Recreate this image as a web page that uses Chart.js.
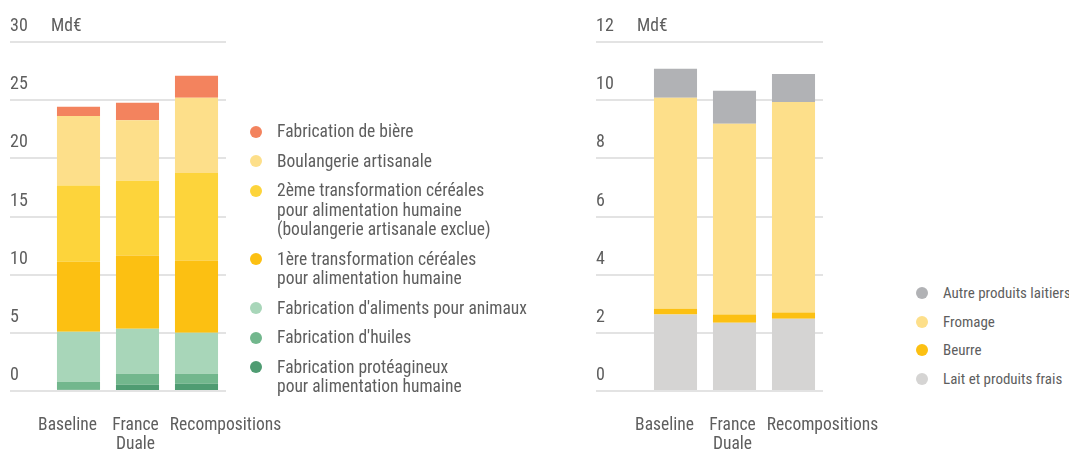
<!DOCTYPE html>
<html lang="fr">
<head>
<meta charset="utf-8">
<script src="https://cdn.jsdelivr.net/npm/chart.js@4"></script>
<style>
  html, body { margin: 0; padding: 0; background: #fff; }
  body {
    position: relative; width: 1069px; height: 450px; overflow: hidden;
    font-family: "Liberation Sans Narrow", "Roboto Condensed", "DejaVu Sans Condensed", sans-serif;
    color: #5e5e5e;
  }
  canvas { position: absolute; top: 0; }
  #agri { left: 0; }
  #lait { left: 590px; }
  .legend { position: absolute; margin: 0; padding: 0; list-style: none; }
  .legend li { position: relative; padding-left: 27px; white-space: nowrap; }
  .legend .dot { position: absolute; left: 0; width: 12px; height: 12px; border-radius: 50%; }
  #agri-legend { left: 250px; top: 122px; font-size: 17.5px; line-height: 19.5px; }
  #agri-legend li { margin-bottom: 10px; }
  #agri-legend .dot { top: 3.75px; }
  #lait-legend { left: 916px; top: 284px; font-size: 15px; line-height: 18px; }
  #lait-legend li { margin-bottom: 10.7px; }
  #lait-legend .dot { top: 3px; }
</style>
</head>
<body>
<canvas id="agri" width="300" height="450"></canvas>
<canvas id="lait" width="300" height="450"></canvas>
<ul class="legend" id="agri-legend"></ul>
<ul class="legend" id="lait-legend"></ul>
<script>
const FONT = '"Liberation Sans Narrow", "Roboto Condensed", "DejaVu Sans Condensed", sans-serif';
const TEXT = '#5e5e5e';
const GRID = '#e3e3e3';

const scenarios = ['Baseline', ['France', 'Duale'], 'Recompositions'];

// Filière céréales / oléoprotéagineux (Md€), stacked from the bottom up
const proteagineux = [0.11, 0.54, 0.63];
const huiles = [0.69, 0.95, 0.86];
const alimentsAnimaux = [4.29, 3.86, 3.52];
const premiereTransfo = [6.02, 6.30, 6.21];
const deuxiemeTransfo = [6.55, 6.42, 7.53];
const boulangerie = [5.97, 5.21, 6.45];
const biere = [0.80, 1.49, 1.89];

// Filière lait (Md€)
const laitFrais = [2.63, 2.35, 2.48];
const beurre = [0.20, 0.28, 0.22];
const fromage = [7.25, 6.56, 7.24];
const autresLaitiers = [1.00, 1.13, 0.96];

// category labels sit a little off their bar centres
const labelShift = [-11, -2, 29];

const bar = (label, data, color) => ({
  label, data, backgroundColor: color, borderWidth: 0,
  barPercentage: 0.73, categoryPercentage: 1
});

// x labels under the bars and the unit next to the top tick
const axisText = {
  id: 'axisText',
  afterDraw(chart) {
    const {ctx, chartArea, scales: {x, y}} = chart;
    ctx.save();
    ctx.font = '17.5px ' + FONT;
    ctx.fillStyle = TEXT;
    ctx.textBaseline = 'middle';
    ctx.textAlign = 'center';
    chart.data.labels.forEach((label, i) => {
      const cx = x.getPixelForValue(i) + labelShift[i];
      [].concat(label).forEach((line, j) => {
        ctx.fillText(line, cx, chartArea.bottom + 35 + j * 19);
      });
    });
    ctx.textAlign = 'left';
    ctx.fillText('Md€', y.left + 41, y.getPixelForValue(y.max) - 15.5);
    ctx.restore();
  }
};

function makeChart(id, datasets, max, step, axisWidth, padding) {
  return new Chart(document.getElementById(id), {
    type: 'bar',
    data: {labels: scenarios, datasets},
    options: {
      responsive: false,
      animation: false,
      layout: {padding},
      scales: {
        x: {stacked: true, display: false},
        y: {
          stacked: true,
          min: 0,
          max,
          border: {display: false},
          grid: {color: GRID, lineWidth: 2, tickLength: axisWidth, tickColor: GRID},
          ticks: {
            stepSize: step,
            crossAlign: 'far',
            labelOffset: -15.5,
            padding: 0,
            color: TEXT,
            font: {family: FONT, size: 18}
          },
          afterFit(scale) { scale.width = axisWidth; }
        }
      },
      plugins: {legend: {display: false}, tooltip: {enabled: false}}
    },
    plugins: [axisText]
  });
}

function buildLegend(chart, id) {
  const list = document.getElementById(id);
  chart.data.datasets.slice().reverse().forEach(ds => {
    const li = document.createElement('li');
    const dot = document.createElement('span');
    dot.className = 'dot';
    dot.style.background = ds.backgroundColor;
    li.appendChild(dot);
    [].concat(ds.label).forEach((line, i) => {
      if (i) li.appendChild(document.createElement('br'));
      li.appendChild(document.createTextNode(line));
    });
    list.appendChild(li);
  });
}

const agri = makeChart('agri', [
  bar(['Fabrication protéagineux', 'pour alimentation humaine'], proteagineux, '#4f9c72'),
  bar("Fabrication d'huiles", huiles, '#72b78d'),
  bar("Fabrication d'aliments pour animaux", alimentsAnimaux, '#a8d6b9'),
  bar(['1ère transformation céréales', 'pour alimentation humaine'], premiereTransfo, '#fcc012'),
  bar(['2ème transformation céréales', 'pour alimentation humaine', '(boulangerie artisanale exclue)'], deuxiemeTransfo, '#fdd43b'),
  bar('Boulangerie artisanale', boulangerie, '#fddf8a'),
  bar('Fabrication de bière', biere, '#f3835e')
], 30, 5, 39, {top: 42, left: 10, right: 74, bottom: 59});

const lait = makeChart('lait', [
  bar('Lait et produits frais', laitFrais, '#d5d4d3'),
  bar('Beurre', beurre, '#fcc012'),
  bar('Fromage', fromage, '#fddf8a'),
  bar('Autre produits laitiers', autresLaitiers, '#b1b2b5')
], 12, 2, 50, {top: 42, left: 6, right: 67, bottom: 59});

buildLegend(agri, 'agri-legend');
buildLegend(lait, 'lait-legend');
</script>
</body>
</html>
